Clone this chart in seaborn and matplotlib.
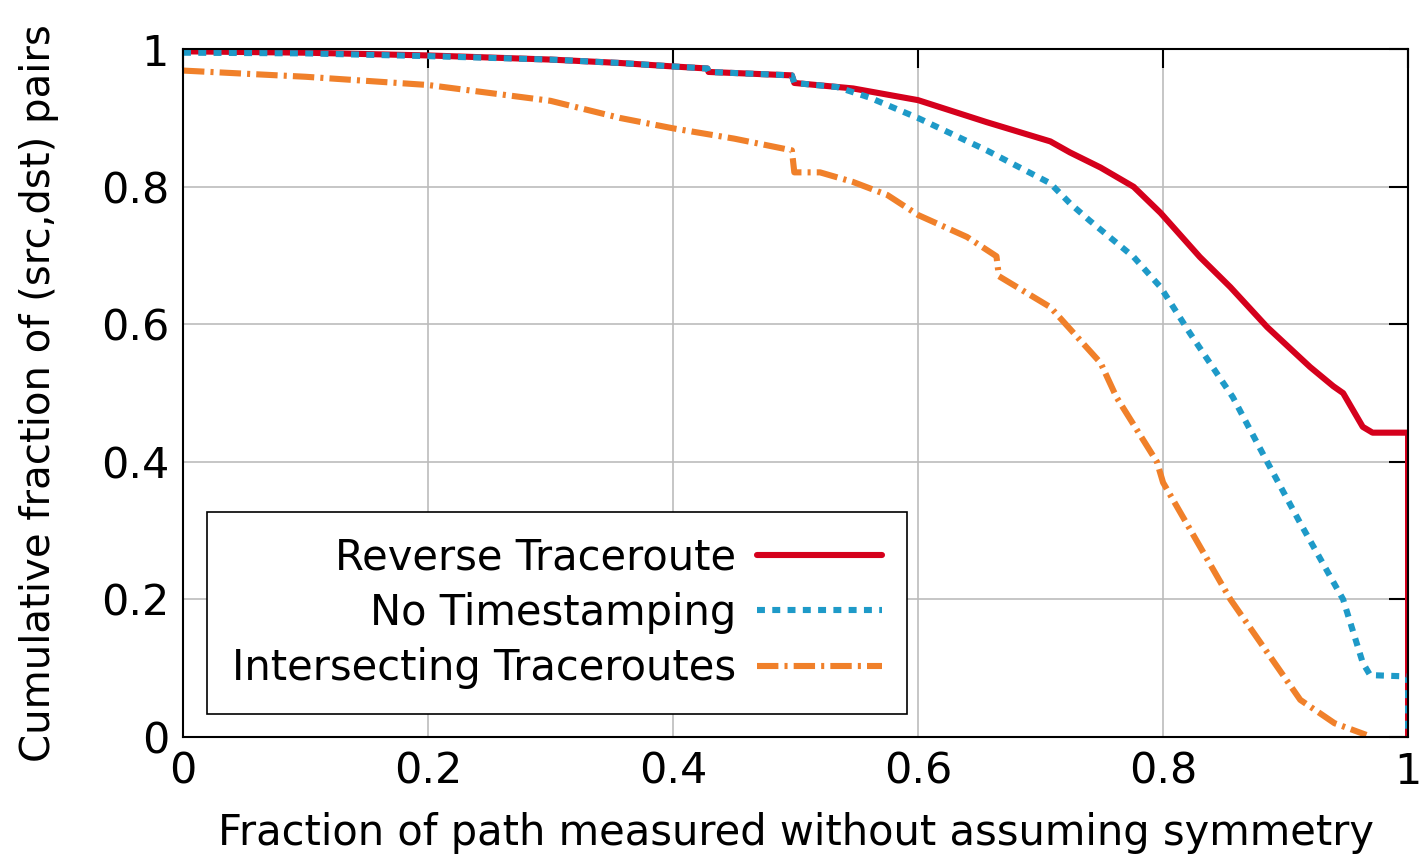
import pandas as pd
import matplotlib
matplotlib.use("Agg")
import matplotlib.pyplot as plt
import seaborn as sns

# Values
rt_x = [0.0, 0.1, 0.2, 0.3, 0.357, 0.4, 0.428, 0.429, 0.497, 0.499, 0.547, 0.6,
        0.656, 0.708, 0.724, 0.749, 0.776, 0.798, 0.83, 0.855, 0.885, 0.92,
        0.939, 0.947, 0.963, 0.971, 1.0, 1.0]
rt_y = [0.997, 0.995, 0.991, 0.985, 0.98, 0.975, 0.972, 0.967, 0.962, 0.951,
        0.943, 0.926, 0.894, 0.866, 0.850, 0.828, 0.80, 0.762, 0.698, 0.654,
        0.596, 0.538, 0.51, 0.50, 0.451, 0.4425, 0.4425, 0.0]

nt_x = [0.0, 0.1, 0.2, 0.3, 0.357, 0.4, 0.428, 0.429, 0.497, 0.499, 0.534, 0.56,
        0.6, 0.656, 0.708, 0.724, 0.74, 0.776, 0.798, 0.822, 0.857, 0.885,
        0.912, 0.947, 0.963, 0.969, 1.0, 1.0]
nt_y = [0.995, 0.994, 0.99, 0.985, 0.98, 0.975, 0.972, 0.967, 0.962, 0.951,
        0.945, 0.93, 0.90, 0.853, 0.805, 0.776, 0.751, 0.698, 0.654, 0.587,
        0.494, 0.40, 0.311, 0.20, 0.108, 0.09, 0.088, 0.0]

it_x = [0.0, 0.1, 0.2, 0.3, 0.357, 0.4, 0.45, 0.497, 0.499, 0.52, 0.547, 0.575,
        0.6, 0.64, 0.664, 0.666, 0.708, 0.749, 0.762, 0.795, 0.8, 0.855, 0.912,
        0.94, 0.966]
it_y = [0.969, 0.96, 0.948, 0.925, 0.90, 0.885, 0.87, 0.853, 0.821, 0.821,
        0.807, 0.788, 0.759, 0.727, 0.699, 0.67, 0.625, 0.544, 0.494, 0.40,
        0.37, 0.2, 0.054, 0.02, 0.003]

series_names = ["Reverse Traceroute", "No Timestamping", "Intersecting Traceroutes"]
tick_vals = [0, 0.2, 0.4, 0.6, 0.8, 1]
tick_labels = ["0", "0.2", "0.4", "0.6", "0.8", "1"]

sns.set_theme(style="white")
plt.rcParams['font.family'] = ['DejaVu Sans']
plt.rcParams['text.color'] = 'black'
plt.rcParams['axes.labelcolor'] = 'black'

fig = plt.figure(figsize=(14.22, 8.64), dpi=100)
ax = fig.add_axes([0.1287, 0.147, 0.8615, 0.796])

# -------------------------------
# Curves
sns.lineplot(x=rt_x, y=rt_y, ax=ax, estimator=None, sort=False,
             color="#d5001c", lw=4.4, label=series_names[0])
sns.lineplot(x=nt_x, y=nt_y, ax=ax, estimator=None, sort=False,
             color="#1e9ac8", lw=4.4, linestyle=(0, (1.3, 1.2)),
             label=series_names[1])
sns.lineplot(x=it_x, y=it_y, ax=ax, estimator=None, sort=False,
             color="#f0802a", lw=4.4, linestyle=(0, (3.5, 1.0, 0.5, 1.0)),
             label=series_names[2])

ax.set_xlim(0, 1)
ax.set_ylim(0, 1)
ax.set_xticks(tick_vals)
ax.set_xticklabels(tick_labels)
ax.set_yticks(tick_vals)
ax.set_yticklabels(tick_labels)
ax.grid(True, color="#bcbcbc", lw=1.2)
ax.tick_params(direction="in", length=14, width=1.5, top=True, right=True,
               labelsize=31, pad=10, colors="black")
for s in ax.spines.values():
    s.set_color("black")
    s.set_linewidth(1.5)

ax.set_xlabel("Fraction of path measured without assuming symmetry",
              fontsize=30, labelpad=14)
ax.set_ylabel("Cumulative fraction of (src,dst) pairs", fontsize=29, labelpad=30)

leg = ax.legend(loc="lower left", bbox_to_anchor=(0.0196, 0.033),
                borderaxespad=0, markerfirst=False, fontsize=30,
                handlelength=3.0, handletextpad=0.5, labelspacing=0.32,
                fancybox=False, framealpha=1, edgecolor="black",
                borderpad=0.6)
leg.get_frame().set_linewidth(1.2)

plt.savefig("out.png", dpi=100)
